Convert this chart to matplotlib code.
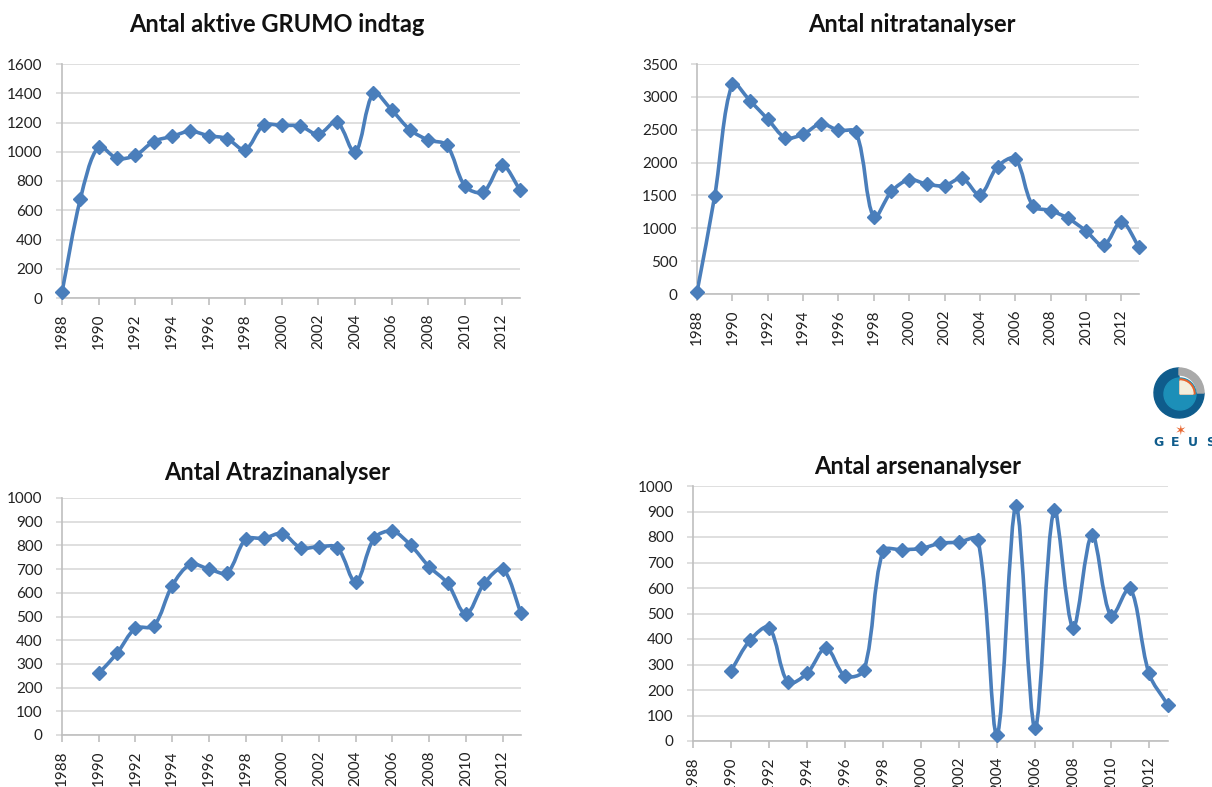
import matplotlib
matplotlib.use("Agg")
import matplotlib.pyplot as plt
from matplotlib.path import Path
from matplotlib.patches import PathPatch, Wedge, Circle
import numpy as np

#########################################
# Data
#########################################

years = list(range(1988, 2014))

grumo = [40, 675, 1035, 955, 975, 1070, 1105, 1140, 1110, 1090, 1015, 1180, 1180,
         1175, 1120, 1205, 995, 1400, 1285, 1150, 1080, 1045, 765, 725, 910, 740]

nitrat = [30, 1490, 3200, 2940, 2660, 2380, 2430, 2590, 2490, 2460, 1170, 1560, 1740,
          1670, 1650, 1760, 1510, 1940, 2060, 1340, 1270, 1150, 960, 740, 1100, 715]

atrazin_years = list(range(1990, 2014))
atrazin = [260, 345, 450, 460, 630, 720, 700, 685, 825, 830, 850, 790, 795,
           790, 645, 830, 860, 800, 710, 640, 510, 640, 700, 515]

arsen_years = list(range(1990, 2014))
arsen = [275, 395, 445, 230, 265, 365, 255, 278, 745, 750, 755, 775, 780,
         790, 25, 920, 50, 905, 445, 808, 490, 600, 265, 140]

titles = ["Antal aktive GRUMO indtag", "Antal nitratanalyser",
          "Antal Atrazinanalyser", "Antal arsenanalyser"]

BLUE = "#4A7EBB"
GRID = "#D9D9D9"
AXIS = "#BFBFBF"

plt.rcParams["font.family"] = ["Lato", "DejaVu Sans"]


def smooth_path(ax, x, y):
    # Excel style smoothed line, built in screen space so short segments
    # next to long ones do not overshoot much
    pts = ax.transData.transform(np.column_stack([x, y]))
    n = len(pts)
    verts = [tuple(pts[0])]
    codes = [Path.MOVETO]
    for i in range(n - 1):
        p0 = pts[max(i - 1, 0)]
        p1 = pts[i]
        p2 = pts[i + 1]
        p3 = pts[min(i + 2, n - 1)]
        d01 = np.hypot(*(p1 - p0))
        d12 = np.hypot(*(p2 - p1))
        d23 = np.hypot(*(p3 - p2))
        t1 = p2 - p0
        t2 = p3 - p1
        s1 = d12 / (d01 + d12) if d01 + d12 > 0 else 0.5
        s2 = d12 / (d12 + d23) if d12 + d23 > 0 else 0.5
        c1 = p1 + t1 * s1 / 3
        c2 = p2 - t2 * s2 / 3
        verts += [tuple(c1), tuple(c2), tuple(p2)]
        codes += [Path.CURVE4] * 3
    verts = ax.transData.inverted().transform(np.array(verts))
    return Path(verts, codes)


def draw_chart(rect, xs, ys, ymax, ystep, title, title_xy):
    ax = fig.add_axes(rect)
    ax.set_xlim(1988, 2013)
    ax.set_ylim(0, ymax)
    ax.add_patch(PathPatch(smooth_path(ax, xs, ys), facecolor="none", edgecolor=BLUE,
                           lw=2.6, capstyle="round", joinstyle="round", zorder=3))
    ax.plot(xs, ys, ls="none", marker="D", ms=7.5, color=BLUE, zorder=4, clip_on=False)
    ax.set_yticks(np.arange(0, ymax + 1, ystep))
    ax.set_xticks(range(1988, 2013, 2))
    ax.set_xticklabels([str(v) for v in range(1988, 2013, 2)], rotation=90)
    ax.grid(axis="y", color=GRID, lw=1.2)
    ax.set_axisbelow(True)
    for s in ["top", "right"]:
        ax.spines[s].set_visible(False)
    for s in ["left", "bottom"]:
        ax.spines[s].set_color(AXIS)
        ax.spines[s].set_linewidth(1.2)
    ax.tick_params(axis="y", length=4, color=GRID, width=1.2, labelsize=11, pad=10,
                   labelcolor="#222222")
    ax.tick_params(axis="x", length=5, color=AXIS, width=1.2, labelsize=11, pad=6,
                   labelcolor="#222222")
    fig.text(title_xy[0] / 1212, 1 - title_xy[1] / 787, title, ha="center", va="center",
             fontsize=17, fontweight="bold", color="#111111")
    return ax


fig = plt.figure(figsize=(12.12, 7.87), dpi=100)
fig.patch.set_facecolor("white")

draw_chart([62 / 1212, 1 - 298 / 787, 458 / 1212, 234 / 787], years, grumo, 1600, 200,
           titles[0], (277, 25))
draw_chart([697 / 1212, 1 - 294 / 787, 442 / 1212, 230 / 787], years, nitrat, 3500, 500,
           titles[1], (912, 25))
draw_chart([62 / 1212, 1 - 735 / 787, 459 / 1212, 237 / 787], atrazin_years, atrazin, 1000, 100,
           titles[2], (277, 472))
draw_chart([693 / 1212, 1 - 741 / 787, 475 / 1212, 255 / 787], arsen_years, arsen, 1000, 100,
           titles[3], (918, 467))

#########################################
# GEUS logo (rough), pixel coordinates
#########################################

lax = fig.add_axes([1145 / 1212, 1 - 450 / 787, 67 / 1212, 90 / 787])
lax.set_xlim(1145, 1212)
lax.set_ylim(450, 360)
lax.axis("off")
cx, cy = 1179, 393
lax.add_patch(Wedge((cx, cy), 25, 0, 270, color="#0F5C8C"))
lax.add_patch(Wedge((cx, cy), 25, 270, 360, width=7, color="#A9A9A9"))
lax.add_patch(Circle((cx + 1, cy + 1), 16, color="#1C8FB8"))
lax.add_patch(Wedge((cx + 1, cy + 1), 15, 270, 360, color="#E8642C"))
lax.add_patch(Wedge((cx + 1, cy + 1), 13, 270, 360, color="#F3EEDC"))
lax.text(1181, 431, "\u2736", color="#E8642C", fontsize=10, ha="center", va="center",
         family=["DejaVu Sans"])
for letter, lx in zip("GEUS", [1158, 1175, 1193, 1211]):
    lax.text(lx, 443, letter, color="#0F5C8C", fontsize=9, fontweight="heavy",
             ha="center", va="center", family=["DejaVu Sans"], clip_on=False)

fig.savefig("out.png", dpi=100)
